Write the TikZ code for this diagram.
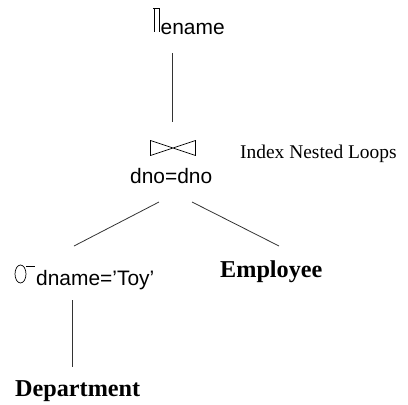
\documentclass[tikz,border=0pt]{standalone}
\usepackage{fontspec}
\setmainfont{Liberation Serif}
\setsansfont{Liberation Sans}
\begin{document}
\begin{tikzpicture}[x=1bp,y=-1bp,
  edge/.style={line width=0.8bp, black!80},
  sym/.style={line width=0.7bp, black},
  lbl/.style={font=\sffamily\fontsize{21}{21}\selectfont, inner sep=0pt, anchor=base west},
  rel/.style={font=\bfseries\fontsize{24.3}{24.3}\selectfont, inner sep=0pt, anchor=base west},
  note/.style={font=\fontsize{19.5}{19.5}\selectfont, inner sep=0pt, anchor=base west}]
\useasboundingbox (0,0) rectangle (408,405);
% projection symbol and attribute
\draw[sym] (153,8) -- (160,8) (154,8) -- (154,32) (159,8) -- (159,32);
\node[lbl] (ename) at (160.5,34.3) {ename};
% join symbol
\draw[sym] (150.5,140.5) -- (195.5,155.5) -- (195.5,140.5) -- (150.5,155.5) -- cycle;
\node[lbl] (cond) at (130,183) {dno=dno};
\node[note] (inl) at (240,158.3) {Index Nested Loops};
% selection symbol
\draw[sym] (20.5,274) ellipse (5.5bp and 9bp);
\draw[sym] (26,266) -- (35,266);
\node[lbl] (sel) at (36,285) {dname='Toy'};
% relations
\node[rel] (emp) at (220,277.3) {Employee};
\node[rel] (dept) at (15,396.7) {Department};
% connector ends
\coordinate (projB) at (172.5,53);
\coordinate (joinT) at (172.5,121.5);
\coordinate (joinL) at (159,202);
\coordinate (selT) at (74,246);
\coordinate (joinR) at (192,202);
\coordinate (empT) at (279,246);
\coordinate (selB) at (72,300);
\coordinate (deptT) at (72,367);
\draw[edge] (projB) -- (joinT);
\draw[edge] (joinL) -- (selT);
\draw[edge] (joinR) -- (empT);
\draw[edge] (selB) -- (deptT);
\end{tikzpicture}
\end{document}
